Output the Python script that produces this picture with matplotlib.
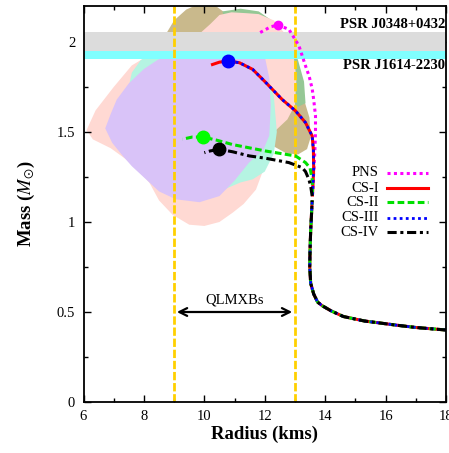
import matplotlib
matplotlib.use("Agg")
import matplotlib.pyplot as plt
import numpy as np

plt.rcParams['font.family'] = ['Liberation Serif', 'DejaVu Serif']
plt.rcParams['mathtext.fontset'] = 'stix'

# ---------------- data ----------------
# shared stable branch (radius km, mass Msun)
tail_R = [18.0, 17.0, 16.4, 15.3, 14.6, 14.2, 13.9, 13.75, 13.62, 13.52, 13.49, 13.5, 13.52, 13.55, 13.57]
tail_M = [0.40, 0.414, 0.426, 0.45, 0.475, 0.506, 0.535, 0.555, 0.60, 0.66, 0.75, 0.85, 0.95, 1.05, 1.12]

pns_R = [13.58, 13.6, 13.63, 13.66, 13.68, 13.68, 13.62, 13.57, 13.47, 13.35, 13.13, 12.8, 12.45, 12.2, 11.82]
pns_M = [1.15, 1.22, 1.30, 1.40, 1.50, 1.59, 1.68, 1.74, 1.81, 1.867, 1.98, 2.07, 2.094, 2.085, 2.05]

cs1_R = [13.58, 13.6, 13.62, 13.61, 13.57, 13.35, 13.02, 12.58, 12.04, 11.6, 11.16, 10.77, 10.5, 10.27]
cs1_M = [1.15, 1.22, 1.30, 1.40, 1.478, 1.552, 1.617, 1.68, 1.774, 1.848, 1.885, 1.894, 1.888, 1.875]

cs2_R = [13.58, 13.58, 13.57, 13.5, 13.35, 13.02, 12.04, 10.94, 10.4, 9.95, 9.6, 9.28]
cs2_M = [1.15, 1.20, 1.237, 1.30, 1.33, 1.367, 1.394, 1.43, 1.455, 1.472, 1.472, 1.46]

cs3_R = [13.58, 13.6, 13.62, 13.61, 13.57, 13.35, 13.02, 12.58, 12.04, 11.6, 11.16, 10.77, 10.55]
cs3_M = [1.15, 1.22, 1.30, 1.40, 1.478, 1.552, 1.617, 1.68, 1.774, 1.848, 1.885, 1.894, 1.889]

cs4_R = [13.57, 13.52, 13.46, 13.35, 13.24, 12.8, 12.0, 11.49, 10.94, 10.5, 10.2, 10.0]
cs4_M = [1.144, 1.20, 1.237, 1.28, 1.302, 1.33, 1.355, 1.367, 1.39, 1.404, 1.395, 1.385]

series_names = ['PNS', 'CS-I', 'CS-II', 'CS-III', 'CS-IV']

# observational constraint regions
tan_R = [8.75, 9.0, 9.4, 9.8, 10.3, 10.7, 11.5, 12.3, 12.9, 13.3, 13.48, 13.52, 13.4, 13.1, 12.7, 12.3, 11.8, 11.0, 10.0, 9.2]
tan_M = [2.05, 2.12, 2.18, 2.21, 2.21, 2.16, 2.06, 1.93, 1.80, 1.68, 1.58, 1.47, 1.405, 1.375, 1.383, 1.42, 1.50, 1.65, 1.84, 1.97]

green_R = [10.6, 11.2, 11.8, 12.4, 12.8, 13.1, 13.3, 13.35, 13.1, 12.5, 11.5, 10.7]
green_M = [2.17, 2.185, 2.17, 2.10, 2.00, 1.90, 1.78, 1.66, 1.64, 1.75, 1.95, 2.10]

pink_R = [6.1, 6.4, 7.0, 7.6, 8.7, 9.9, 10.2, 10.5, 10.9, 11.4, 11.8, 12.3, 12.7, 12.95, 13.05, 13.0, 12.75,
          12.37, 12.2, 12.04, 11.71, 11.3, 10.94, 10.5, 10.0, 9.5, 8.95, 8.5, 8.18, 7.8, 7.41, 6.9, 6.31]
pink_M = [1.51, 1.62, 1.75, 1.87, 1.98, 2.055, 2.10, 2.15, 2.165, 2.16, 2.155, 2.12, 2.04, 1.93, 1.80, 1.65, 1.57,
          1.51, 1.43, 1.33, 1.18, 1.10, 1.052, 1.0, 0.978, 0.985, 1.04, 1.12, 1.219, 1.29, 1.348, 1.41, 1.459]

cyan_R = [7.6, 7.9, 8.6, 9.5, 10.5, 11.4, 12.0, 12.3, 12.4, 12.3, 12.0, 11.6, 11.2, 10.5, 9.5, 8.5, 7.8, 7.3]
cyan_M = [1.83, 1.90, 1.96, 2.0, 2.0, 1.96, 1.85, 1.70, 1.50, 1.38, 1.28, 1.237, 1.22, 1.17, 1.14, 1.20, 1.35, 1.60]

lav_R = [6.72, 6.9, 7.1, 7.5, 8.0, 8.45, 9.5, 11.0, 12.0, 12.15, 12.2, 12.15, 11.95, 11.48, 11.0, 10.5, 9.84,
         9.06, 8.5, 8.07, 7.6, 7.3, 6.95]
lav_M = [1.52, 1.60, 1.68, 1.77, 1.85, 1.90, 1.98, 1.98, 1.92, 1.80, 1.65, 1.48, 1.40, 1.33, 1.23, 1.144, 1.11,
         1.126, 1.17, 1.237, 1.31, 1.367, 1.44]

psr_names = ['PSR J0348+0432', 'PSR J1614-2230']
psr_bands = [(1.95, 2.055), (1.908, 2.0)]
psr_label_M = [2.097, 1.867]

qlmxb_range = (9.0, 13.0)
qlmxb_M = 0.5

# ---------------- figure ----------------
fig = plt.figure(figsize=(4.49, 4.53), dpi=100)
ax = fig.add_axes([83.5 / 449, 51 / 453, (446 - 83.5) / 449, (447 - 51) / 453])
ax.set_xlim(6, 18)
ax.set_ylim(0, 2.2)

ax.fill(tan_R, tan_M, color='#C9B98C', lw=0, zorder=1)
ax.fill(green_R, green_M, color='#95C895', lw=0, zorder=1.1)
ax.fill(pink_R, pink_M, color='#FFD9D3', lw=0, zorder=1.2)
ax.fill(cyan_R, cyan_M, color='#B5F4E2', lw=0, zorder=1.3)
ax.fill(lav_R, lav_M, color='#D9C3F8', lw=0, zorder=1.4)

ax.axhspan(*psr_bands[1], color='#80FFFF', lw=0, zorder=2)
ax.axhspan(*psr_bands[0], color='#DCDCDC', lw=0, zorder=2.1)
for name, ym in zip(psr_names, psr_label_M):
    ax.text(17.97, ym, name, ha='right', va='center', fontsize=10.5, fontweight='bold', zorder=6)

for xv in qlmxb_range:
    ax.axvline(xv, color='#FFD000', lw=2.0, ls=(0, (3, 1)), zorder=3)

ax.annotate('', xy=(qlmxb_range[0], qlmxb_M), xytext=(qlmxb_range[1], qlmxb_M),
            arrowprops=dict(arrowstyle='<->', lw=1.6, color='black', mutation_scale=14), zorder=6)
ax.text(np.mean(qlmxb_range), qlmxb_M + 0.03, 'QLMXBs', ha='center', va='bottom', fontsize=10.5, zorder=6)

styles = [
    dict(color='#FF00FF', lw=2.2, ls=(0, (1, 1.1))),
    dict(color='#FF0000', lw=2.2, ls='-'),
    dict(color='#00E000', lw=2.2, ls=(0, (2.2, 1.1))),
    dict(color='#0000FF', lw=2.0, ls=(0, (1, 1.2))),
    dict(color='black', lw=2.2, ls=(0, (3, 1.2, 1, 1.2))),
]
branches = [(pns_R, pns_M), (cs1_R, cs1_M), (cs2_R, cs2_M), (cs3_R, cs3_M), (cs4_R, cs4_M)]

# common stable branch drawn with each style
for st in [styles[1], styles[2], styles[3], styles[4]]:
    ax.plot(tail_R, tail_M, zorder=4, solid_capstyle='butt', **st)

for (r, m), st in zip(branches, styles):
    ax.plot(r, m, zorder=4, **st)

marker_sizes = [6, 9, 9, 9, 9]
marker_cols = ['#FF00FF', None, '#00FF00', '#0000FF', 'black']
for i, ((r, m), st) in enumerate(zip(branches, styles)):
    if marker_cols[i] is None:
        continue
    k = int(np.argmax(m))
    ax.plot([r[k]], [m[k]], 'o', color=marker_cols[i], ms=marker_sizes[i], zorder=5)

# legend (gnuplot style: text right, sample line)
leg_y = [0.579, 0.5395, 0.504, 0.4655, 0.429]
for name, st, yy in zip(series_names, styles, leg_y):
    ax.text(0.815, yy, name, transform=ax.transAxes, ha='right', va='center', fontsize=10.5, zorder=6)
    ax.plot([0.837, 0.951], [yy, yy], transform=ax.transAxes, zorder=6, **st)

ax.set_xticks([6, 8, 10, 12, 14, 16, 18])
ax.set_xticks(np.arange(6, 18.1, 1), minor=True)
ax.set_yticks([0, 0.5, 1, 1.5, 2])
ax.set_yticklabels(['0', '0.5', '1', '1.5', '2'])
ax.set_yticks(np.arange(0, 2.21, 0.25), minor=True)
ax.tick_params(which='both', direction='in', top=True, right=True, labelsize=10.5, width=1.0)
ax.tick_params(which='major', length=5, pad=6)
ax.tick_params(which='minor', length=3)
for s in ax.spines.values():
    s.set_linewidth(1.3)
    s.set_zorder(7)

ax.set_xlabel('Radius (kms)', fontsize=13.5, fontweight='bold', labelpad=2)
ax.set_ylabel(r'Mass ($M_{\odot}$)', fontsize=13.5, fontweight='bold', labelpad=14)

fig.savefig('out.png', dpi=100)
